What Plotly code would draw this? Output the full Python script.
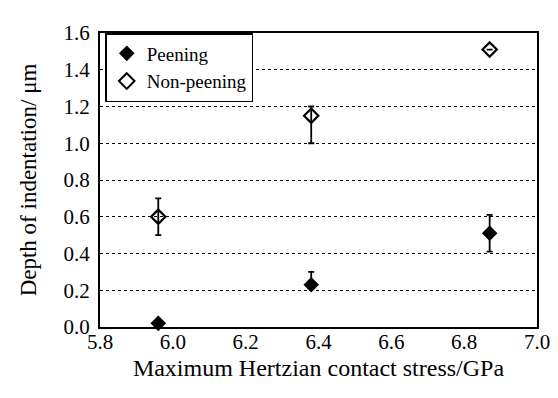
import plotly.graph_objects as go

stress_peen = [5.96, 6.38, 6.87]
depth_peen = [0.02, 0.23, 0.51]
err_peen_plus = [0.0, 0.07, 0.10]
err_peen_minus = [0.0, 0.0, 0.10]

stress_non = [5.96, 6.38, 6.87]
depth_non = [0.60, 1.15, 1.51]
err_non_plus = [0.10, 0.05, 0.0]
err_non_minus = [0.10, 0.15, 0.0]

x_ticks = [5.8, 6.0, 6.2, 6.4, 6.6, 6.8, 7.0]
y_ticks = [0.0, 0.2, 0.4, 0.6, 0.8, 1.0, 1.2, 1.4, 1.6]

font = "Liberation Serif, Times New Roman, DejaVu Serif, serif"

fig = go.Figure()
fig.add_trace(go.Scatter(
    x=stress_peen, y=depth_peen, mode="markers", name="Peening",
    marker=dict(symbol="diamond", size=12, color="black"),
    error_y=dict(type="data", symmetric=False, array=err_peen_plus,
                 arrayminus=err_peen_minus, color="black", thickness=1.8, width=3),
    cliponaxis=False,
))
fig.add_trace(go.Scatter(
    x=stress_non, y=depth_non, mode="markers", name="Non-peening",
    marker=dict(symbol="diamond-open", size=11, color="black", line=dict(width=2.2)),
    error_y=dict(type="data", symmetric=False, array=err_non_plus,
                 arrayminus=err_non_minus, color="black", thickness=1.8, width=3),
    cliponaxis=False,
))

fig.update_layout(
    width=558, height=398,
    margin=dict(l=92, r=29, t=25, b=79),
    paper_bgcolor="white", plot_bgcolor="white",
    font=dict(family=font, size=21, color="black"),
    showlegend=True,
    legend=dict(x=0.012, y=1.0, xanchor="left", yanchor="top",
                bordercolor="black", borderwidth=1.5, bgcolor="white",
                font=dict(family=font, size=19, color="black"),
                itemsizing="constant", tracegroupgap=0,
                itemwidth=30),
    xaxis=dict(
        range=[5.8, 7.0], tickvals=x_ticks,
        ticktext=[f"{v:.1f}" for v in x_ticks],
        showline=True, linecolor="black", linewidth=2, mirror=True,
        showgrid=False, zeroline=False, ticks="", ticklabelstandoff=-5,
        title=dict(text="Maximum Hertzian contact stress/GPa",
                   font=dict(family=font, size=24), standoff=6),
        tickfont=dict(family=font, size=21),
    ),
    yaxis=dict(
        range=[0, 1.6], tickvals=y_ticks,
        ticktext=[f"{v:.1f}" for v in y_ticks],
        showline=True, linecolor="black", linewidth=2, mirror=True,
        showgrid=True, gridcolor="black", griddash="dot", gridwidth=1,
        zeroline=False, ticks="", ticklabelstandoff=4,
        title=dict(text="Depth of indentation/ μm",
                   font=dict(family=font, size=23), standoff=20),
        tickfont=dict(family=font, size=21),
    ),
)

fig.write_html("out.html")
